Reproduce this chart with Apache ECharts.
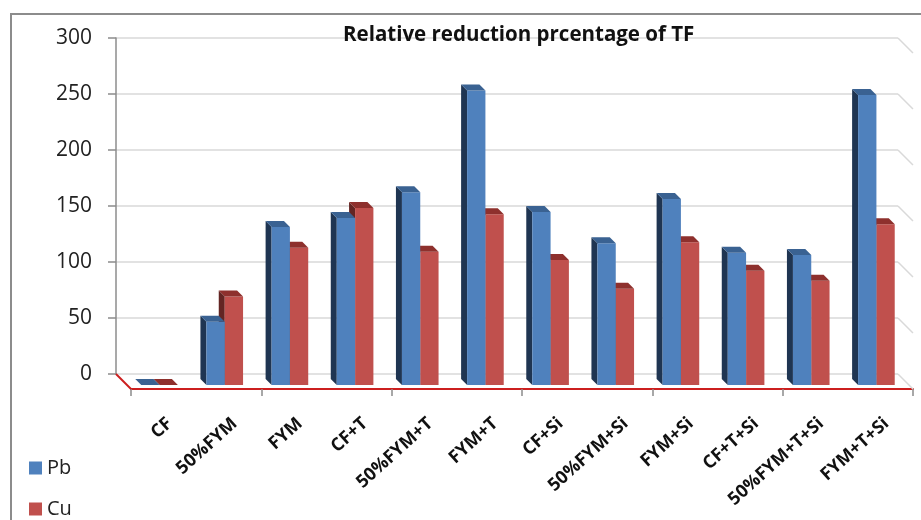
<!DOCTYPE html>
<html>
<head>
<meta charset="utf-8">
<title>Relative reduction prcentage of TF</title>
<script src="https://cdn.jsdelivr.net/npm/echarts@6/dist/echarts.min.js"></script>
<style>
  html, body { margin: 0; padding: 0; background: #ffffff; }
  #chart { width: 921px; height: 520px; }
</style>
</head>
<body>
<div id="chart"></div>
<script>
// Treatments on the category axis
const categories = ['CF', '50%FYM', 'FYM', 'CF+T', '50%FYM+T', 'FYM+T', 'CF+Si',
  '50%FYM+Si', 'FYM+Si', 'CF+T+Si', '50%FYM+T+Si', 'FYM+T+Si'];
// Relative reduction percentage of TF for each metal
const pbValues = [0, 56.5, 141, 149, 172, 263, 154.5, 126.5, 166, 118, 116, 259];
const cuValues = [0, 79, 122.5, 158, 119, 152.5, 111.5, 86, 127.5, 102, 93, 143.5];
// Value axis ticks
const yTicks = [0, 50, 100, 150, 200, 250, 300];

const FONT = '"Open Sans", sans-serif';
const FRONT = 11;   // shift from back wall to the bar front faces
const DEPTH = 6;    // bar depth in pixels
const FLOOR = 15;   // depth of the floor (back wall to front edge)
const BAR_RATIO = 0.281;

const palette = {
  Pb: { front: '#4F81BD', top: '#3A6292', side: '#1F3552' },
  Cu: { front: '#C0504D', top: '#8E302D', side: '#632523' }
};

// Pseudo-3D column: front face, top face and left side face
function makeBarRenderer(name, leftOfPair) {
  const c = palette[name];
  return function (params, api) {
    const i = api.value(0);
    const v = api.value(1);
    const base = api.coord([i, 0]);
    const top = api.coord([i, v]);
    const w = api.size([1, 0])[0] * BAR_RATIO;
    const anchor = base[0] + FRONT;
    const x0 = leftOfPair ? anchor - w : anchor;
    const x1 = x0 + w;
    const yb = base[1] + FRONT;
    const yt = top[1] + FRONT;
    const d = DEPTH;
    return {
      type: 'group',
      children: [
        { type: 'polygon', shape: { points: [[x0, yt], [x0 - d, yt - d], [x0 - d, yb - d], [x0, yb]] },
          style: { fill: c.side } },
        { type: 'rect', shape: { x: x0, y: yt, width: w, height: yb - yt },
          style: { fill: c.front } },
        { type: 'polygon', shape: { points: [[x0, yt], [x1, yt], [x1 - d, yt - d], [x0 - d, yt - d]] },
          style: { fill: c.top } }
      ]
    };
  };
}

// Box edges: side-wall diagonals at each gridline and the red floor edge
function renderFrame(params, api) {
  const cs = params.coordSys;
  const val = api.value(0);
  const p = api.coord([0, val]);
  const xr = cs.x + cs.width;
  const children = [
    { type: 'line', shape: { x1: xr, y1: p[1], x2: xr + FLOOR, y2: p[1] + FLOOR },
      style: { stroke: '#d9d9d9', lineWidth: 1.5 } }
  ];
  if (val === 0) {
    children.push({ type: 'line', shape: { x1: cs.x, y1: p[1], x2: cs.x + FLOOR, y2: p[1] + FLOOR },
      style: { stroke: '#cc1f1f', lineWidth: 2 } });
  }
  return { type: 'group', children: children };
}

const chart = echarts.init(document.getElementById('chart'), null, { renderer: 'canvas' });

chart.setOption({
  animation: false,
  backgroundColor: '#ffffff',
  title: {
    text: 'Relative reduction prcentage of TF',
    left: 338,
    top: 20,
    textStyle: { fontFamily: FONT, fontSize: 20.5, fontWeight: 'bold', color: '#111' }
  },
  legend: {
    data: ['Pb', 'Cu'],
    orient: 'vertical',
    left: 24,
    top: 453,
    height: 120,
    itemWidth: 13,
    itemHeight: 13,
    itemGap: 21,
    icon: 'rect',
    textStyle: { fontFamily: FONT, fontSize: 20, color: '#222' }
  },
  graphic: [
    { type: 'rect', shape: { x: 11, y: 14, width: 1000, height: 600 },
      style: { fill: null, stroke: '#8c8c8c', lineWidth: 2 }, silent: true, z: -10 }
  ],
  grid: [
    // back wall
    { left: 116, top: 38, width: 782, height: 336 },
    // front edge of the floor
    { left: 131, top: 53, width: 782, height: 336 },
    // category label band
    { left: 137, top: 53, width: 782, height: 336 }
  ],
  xAxis: [
    { type: 'category', gridIndex: 0, data: categories,
      axisLine: { show: false }, axisTick: { show: false }, axisLabel: { show: false } },
    { type: 'category', gridIndex: 1, data: categories,
      axisLine: { show: true, lineStyle: { color: '#cc1f1f', width: 2 } },
      axisTick: { show: true, length: 7, lineStyle: { color: '#8c8c8c', width: 1.5 } },
      axisLabel: { show: false } },
    { type: 'category', gridIndex: 2, data: categories,
      axisLine: { show: false }, axisTick: { show: false },
      axisLabel: { rotate: 42, margin: 32, fontFamily: FONT, fontSize: 18, fontWeight: 'bold', color: '#111' } }
  ],
  yAxis: [
    { type: 'value', gridIndex: 0, min: 0, max: 300, interval: 50,
      axisLine: { show: true, lineStyle: { color: '#8c8c8c', width: 1.5 } },
      axisTick: { show: true, length: 8, lineStyle: { color: '#8c8c8c', width: 1.5 } },
      axisLabel: { margin: 24, fontFamily: FONT, fontSize: 21, color: '#222' },
      splitLine: { show: true, lineStyle: { color: '#d9d9d9', width: 1.5 } } },
    { type: 'value', gridIndex: 1, min: 0, max: 300, interval: 50, show: false,
      splitLine: { show: false } },
    { type: 'value', gridIndex: 2, min: 0, max: 300, interval: 50, show: false,
      splitLine: { show: false } }
  ],
  series: [
    { type: 'custom', name: 'frame', silent: true, xAxisIndex: 0, yAxisIndex: 0,
      data: yTicks.map(t => [t]), encode: { y: 0 }, renderItem: renderFrame, z: 1 },
    { type: 'custom', name: 'Cu', xAxisIndex: 0, yAxisIndex: 0, itemStyle: { color: palette.Cu.front },
      data: cuValues.map((v, i) => [i, v]), renderItem: makeBarRenderer('Cu', false), z: 2 },
    { type: 'custom', name: 'Pb', xAxisIndex: 0, yAxisIndex: 0, itemStyle: { color: palette.Pb.front },
      data: pbValues.map((v, i) => [i, v]), renderItem: makeBarRenderer('Pb', true), z: 3 }
  ]
});
</script>
</body>
</html>
